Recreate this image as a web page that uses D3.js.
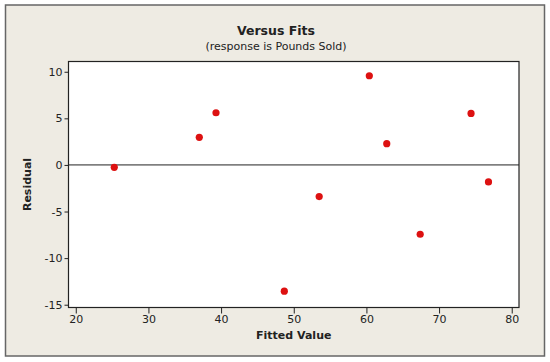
<!DOCTYPE html>
<html>
<head>
<meta charset="utf-8">
<script src="https://cdn.jsdelivr.net/npm/d3@7"></script>
<style>
  body { margin: 0; background: #fff; }
  text { font-family: "DejaVu Sans", Verdana, sans-serif; fill: #222; }
</style>
</head>
<body>
<div id="chart"></div>
<script>
(function(){
    var fitted = [25.3, 37.0, 39.3, 48.7, 53.5, 60.4, 62.8, 67.4, 74.4, 76.8];
    var residual = [-0.26, 2.96, 5.6, -13.55, -3.4, 9.57, 2.28, -7.44, 5.53, -1.82];
    var xTicks = [20, 30, 40, 50, 60, 70, 80];
    var yTicks = [-15, -10, -5, 0, 5, 10];

    var width = 550, height = 362;
    var plot = {left: 68.5, right: 519, top: 61.5, bottom: 307.5};

    var svg = d3.select("#chart")
        .append("svg")
        .attr("width", width)
        .attr("height", height);

    // outer panel
    svg.append("rect")
        .attr("x", 5.5).attr("y", 5)
        .attr("width", 539).attr("height", 351)
        .attr("fill", "#eeebe3")
        .attr("stroke", "#666")
        .attr("stroke-width", 1.5);

    var x = d3.scaleLinear().domain([19, 81]).range([plot.left, plot.right]);
    var y = d3.scaleLinear().domain([-15.3, 11.1]).range([plot.bottom, plot.top]);

    svg.append("rect")
        .attr("x", plot.left).attr("y", plot.top)
        .attr("width", plot.right - plot.left)
        .attr("height", plot.bottom - plot.top)
        .attr("fill", "#fff");

    var xAxis = svg.append("g")
        .attr("transform", "translate(0," + plot.bottom + ")")
        .call(d3.axisBottom(x).tickValues(xTicks).tickSize(6).tickPadding(2));
    var yAxis = svg.append("g")
        .attr("transform", "translate(" + plot.left + ",0)")
        .call(d3.axisLeft(y).tickValues(yTicks).tickSize(4).tickPadding(2)
            .tickFormat(function(d){ return String(d); }));

    [xAxis, yAxis].forEach(function(a){
        a.select(".domain").remove();
        a.selectAll("line").attr("stroke", "#222");
        a.selectAll("text")
            .style("font-family", "DejaVu Sans, Verdana, sans-serif")
            .style("font-size", "11px")
            .attr("fill", "#222");
    });

    // zero reference line
    svg.append("line")
        .attr("x1", plot.left).attr("x2", plot.right)
        .attr("y1", y(0)).attr("y2", y(0))
        .attr("stroke", "#222").attr("stroke-width", 1);

    svg.append("rect")
        .attr("x", plot.left).attr("y", plot.top)
        .attr("width", plot.right - plot.left)
        .attr("height", plot.bottom - plot.top)
        .attr("fill", "none")
        .attr("stroke", "#222")
        .attr("stroke-width", 1.2);

    svg.selectAll(".pt")
        .data(fitted)
        .enter()
        .append("circle")
        .attr("class", "pt")
        .attr("cx", function(d){ return x(d); })
        .attr("cy", function(d, i){ return y(residual[i]); })
        .attr("r", 3.6)
        .attr("fill", "#dd1111");

    svg.append("text")
        .attr("x", 276).attr("y", 35)
        .attr("text-anchor", "middle")
        .style("font-size", "12.5px")
        .style("font-weight", "bold")
        .text("Versus Fits");
    svg.append("text")
        .attr("x", 276).attr("y", 50)
        .attr("text-anchor", "middle")
        .style("font-size", "11px")
        .text("(response is Pounds Sold)");

    svg.append("text")
        .attr("x", (plot.left + plot.right) / 2).attr("y", 339)
        .attr("text-anchor", "middle")
        .style("font-size", "11px")
        .style("font-weight", "bold")
        .text("Fitted Value");
    svg.append("text")
        .attr("transform", "translate(31," + (plot.top + plot.bottom) / 2 + ") rotate(-90)")
        .attr("text-anchor", "middle")
        .style("font-size", "11px")
        .style("font-weight", "bold")
        .text("Residual");
})();
</script>
</body>
</html>
